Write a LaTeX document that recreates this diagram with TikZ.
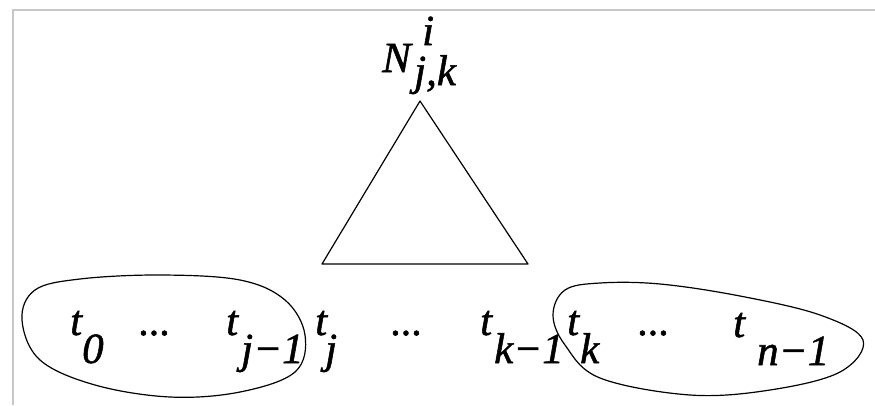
\documentclass[tikz,border=0pt]{standalone}
\usepackage{fontspec}
\newfontfamily\timesit{Liberation Serif Italic}[FakeBold=1.2]
\begin{document}
\begin{tikzpicture}[x=1pt,y=-1pt,
  lbl/.style={inner sep=0pt,anchor=base west,font=\fontsize{43}{50}\timesit},
  dotlbl/.style={inner sep=0pt,anchor=base,font=\fontsize{42}{50}\timesit},
  line/.style={line width=1.2pt,line join=round},
  frame/.style={draw=black!22,line width=1.6pt}]
\useasboundingbox (0,0) rectangle (875,405);
\draw[frame] (13,405) -- (13,10) -- (875,10);
% triangle
\coordinate (apex) at (420,101);
\coordinate (bl) at (322,264);
\coordinate (br) at (528,264);
\draw[line] (apex) -- (bl) -- (br) -- cycle;
% top label
\node[lbl] (N) at (382,72) {N};
\node[lbl] (Nsup) at (422,45) {i};
\node[lbl] (Nsub) at (414,85) {j,k};
% bottom labels
\node[lbl] (t0) at (70,335) {t};
\node[lbl] (t0s) at (82,363) {0};
\node[dotlbl] (d1) at (155,335) {...};
\node[lbl] (tj1) at (226,335) {t};
\node[lbl] (tj1s) at (241,363) {j−1};
\node[lbl] (tj) at (315,335) {t};
\node[lbl] (tjs) at (325,363) {j};
\node[dotlbl] (d2) at (407,335) {...};
\node[lbl] (tk1) at (480,335) {t};
\node[lbl] (tk1s) at (494,363) {k−1};
\node[lbl] (tk) at (567,335) {t};
\node[lbl] (tks) at (580,363) {k};
\node[dotlbl] (d3) at (654,335) {...};
\node[lbl] (tn1) at (733,337) {t};
\node[lbl] (tn1s) at (757,365) {n−1};
% blobs
\draw[line] plot[smooth cycle,tension=0.6] coordinates {(22,320) (35,290) (80,279) (160,275) (240,280) (285,300) (305,335) (295,372) (240,392) (170,397) (95,385) (40,360)};
\draw[line] plot[smooth cycle,tension=0.6] coordinates {(553,315) (565,290) (600,283) (660,284) (740,296) (820,315) (863,340) (840,372) (770,390) (690,395) (600,378) (565,345)};
\end{tikzpicture}
\end{document}
